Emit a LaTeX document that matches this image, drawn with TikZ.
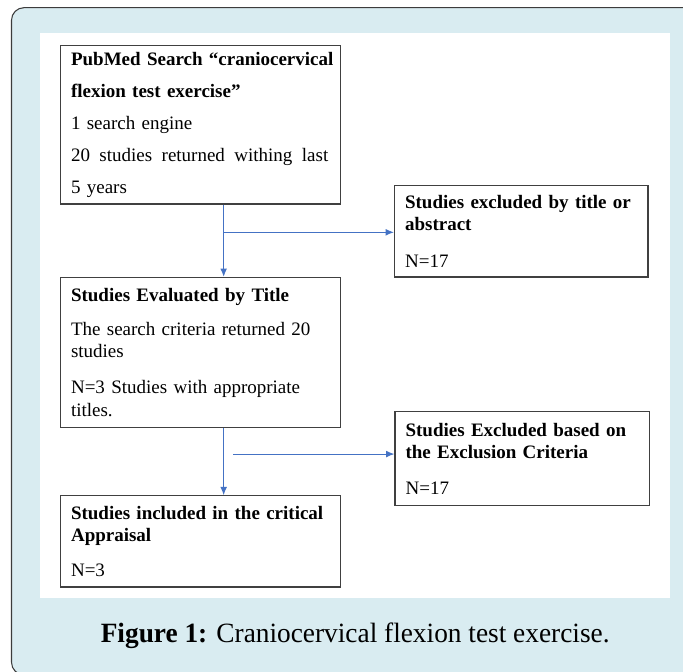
\documentclass[tikz,border=0pt]{standalone}
\usepackage{fontspec}
\setmainfont{Liberation Serif}
\usepackage{graphicx}
\usepackage{tikz}
\usetikzlibrary{arrows.meta}
\definecolor{framefill}{RGB}{217,236,241}
\definecolor{frameline}{RGB}{60,60,60}
\definecolor{boxline}{RGB}{64,64,64}
\definecolor{arrowblue}{RGB}{68,114,196}
\tikzset{>={Latex[width=1.8mm,length=2.2mm]}}
\tikzset{flowbox/.style={shape=rectangle,draw=boxline,line width=0.9pt,fill=white,inner xsep=0.11in,align=left,font=\fontsize{14.3}{17}\selectfont},
flowarrow/.style={->,draw=arrowblue,line width=0.8pt}}

\begin{document}
\begin{tikzpicture}

\useasboundingbox (0in,0in) rectangle (7.115in,-6.99in);
\clip (0in,0in) rectangle (7.115in,-6.99in);

\path [draw=frameline,fill=framefill,line width=0.8pt,rounded corners=0.13in] (0.12in,-0.08in) rectangle (7.40in,-7.03in);

\path [fill=white] (0.42in,-0.34in) rectangle (6.98in,-6.23in);

\path (2.09in,-1.30in) node (search) [flowbox,minimum height=1.65in,minimum width=2.92in,text width=2.70in]{\mbox{\textbf{PubMed Search “craniocervical}}\\[7pt]\textbf{flexion test exercise”}\\[7pt]1 search engine\\[7pt]\makebox[2.68in][l]{20\hfill studies\hfill returned\hfill withing\hfill last}\\[7pt]5 years};

\path (5.43in,-2.41in) node (bytitle) [flowbox,minimum height=0.95in,minimum width=2.64in,text width=2.42in]{\textbf{Studies excluded by title or}\\\textbf{abstract}\\[10.5pt]N=17};

\path (2.09in,-3.67in) node (evaluated) [flowbox,minimum height=1.56in,minimum width=2.92in,text width=2.70in]{\textbf{Studies Evaluated by Title}\\[8.5pt]The search criteria returned 20\\studies\\[10pt]N=3 Studies with appropriate\\titles.};

\path (5.44in,-4.78in) node (bycriteria) [flowbox,minimum height=0.98in,minimum width=2.65in,text width=2.43in]{\textbf{Studies Excluded based on}\\\textbf{the Exclusion Criteria}\\[10pt]N=17};

\path (2.09in,-5.64in) node (included) [flowbox,minimum height=0.95in,minimum width=2.92in,text width=2.70in]{\textbf{Studies included in the critical}\\\textbf{Appraisal}\\[9.5pt]N=3};

\path (3.70in,-6.62in) node (caption) [font=\fontsize{21}{24}\selectfont]{\resizebox{5.30in}{\height}{\textbf{Figure 1:} Craniocervical flexion test exercise.}};

% connectors
\coordinate (split1) at (2.33in,-2.42in);
\coordinate (split2) at (2.43in,-4.73in);

\draw [flowarrow] (search.south -| split1) -- (evaluated.north -| split1);
\draw [flowarrow] (split1) -- (bytitle.west |- split1);
\draw [flowarrow] (evaluated.south -| split1) -- (included.north -| split1);
\draw [flowarrow] (split2) -- (bycriteria.west |- split2);

\end{tikzpicture}
\end{document}
